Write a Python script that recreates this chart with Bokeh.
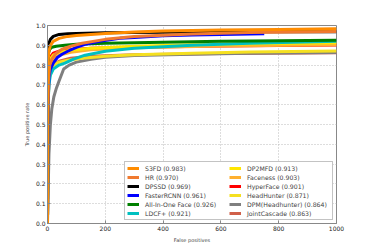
from bokeh.plotting import figure
from bokeh.models import Legend, LegendItem, Range1d, FixedTicker, CustomJSTickFormatter
from bokeh.embed import file_html
from bokeh.resources import INLINE

names = ["S3FD (0.983)", "HR (0.970)", "DPSSD (0.969)", "FasterRCNN (0.961)",
         "All-In-One Face (0.926)", "LDCF+ (0.921)", "DP2MFD (0.913)",
         "Faceness (0.903)", "HyperFace (0.901)", "HeadHunter (0.871)",
         "DPM(Headhunter) (0.864)", "JointCascade (0.863)"]
colors = ["#ff8c00", "#f07a30", "#000000", "#0000ff", "#008000", "#00c0c0",
          "#ffe600", "#ffb030", "#ff0000", "#f5e020", "#7f7f7f", "#d0604a"]

s3fd_x = [0, 0.5, 2, 5, 10, 20, 40, 70, 100, 150, 200, 300, 400, 600, 800, 1000]
s3fd_y = [0, 0.6, 0.82, 0.87, 0.9, 0.92, 0.935, 0.945, 0.95, 0.955, 0.96, 0.967, 0.972, 0.977, 0.98, 0.983]
hr_x = [0, 1, 3, 8, 15, 30, 50, 80, 120, 200, 300, 500, 700, 1000]
hr_y = [0, 0.5, 0.72, 0.8, 0.83, 0.86, 0.88, 0.895, 0.91, 0.93, 0.945, 0.957, 0.965, 0.97]
dpssd_x = [0, 0.5, 2, 5, 10, 20, 40, 70, 100, 200, 300, 500, 700, 1000]
dpssd_y = [0, 0.8, 0.88, 0.91, 0.93, 0.945, 0.955, 0.958, 0.96, 0.963, 0.965, 0.967, 0.968, 0.969]
frcnn_x = [0, 2, 5, 10, 20, 35, 50, 70, 100, 130, 180, 250, 300, 400, 500, 600, 750]
frcnn_y = [0, 0.6, 0.74, 0.78, 0.81, 0.84, 0.855, 0.87, 0.89, 0.905, 0.92, 0.935, 0.94, 0.948, 0.952, 0.955, 0.958]
aio_x = [0, 1, 3, 8, 15, 30, 60, 100, 200, 400, 600, 800, 1000]
aio_y = [0, 0.82, 0.86, 0.88, 0.89, 0.895, 0.9, 0.905, 0.91, 0.915, 0.92, 0.923, 0.926]
ldcf_x = [0, 2, 5, 10, 20, 40, 60, 90, 130, 200, 300, 500, 700, 1000]
ldcf_y = [0, 0.6, 0.7, 0.75, 0.78, 0.8, 0.81, 0.83, 0.85, 0.87, 0.885, 0.9, 0.91, 0.921]
dp2_x = [0, 2, 5, 10, 20, 40, 80, 150, 300, 500, 700, 1000]
dp2_y = [0, 0.7, 0.8, 0.83, 0.85, 0.865, 0.875, 0.885, 0.895, 0.903, 0.908, 0.913]
face_x = [0, 2, 5, 10, 20, 40, 80, 150, 300, 600, 1000]
face_y = [0, 0.65, 0.76, 0.8, 0.83, 0.85, 0.865, 0.877, 0.887, 0.897, 0.903]
hyper_x = [0, 2, 5, 10, 20, 40, 80, 150, 300, 600, 1000]
hyper_y = [0, 0.7, 0.8, 0.84, 0.86, 0.87, 0.878, 0.885, 0.89, 0.896, 0.901]
hh_x = [0, 2, 5, 10, 20, 40, 70, 120, 200, 300, 500, 700, 1000]
hh_y = [0, 0.6, 0.72, 0.77, 0.8, 0.815, 0.825, 0.835, 0.845, 0.852, 0.86, 0.866, 0.871]
dpm_x = [0, 2, 5, 10, 15, 22, 30, 40, 56, 75, 100, 150, 200, 300, 500, 700, 1000]
dpm_y = [0, 0.14, 0.35, 0.5, 0.58, 0.64, 0.68, 0.72, 0.78, 0.8, 0.815, 0.83, 0.84, 0.848, 0.855, 0.86, 0.864]
jc_x = [0, 2, 5, 10, 20, 40, 80, 150, 300, 600, 1000]
jc_y = [0, 0.6, 0.72, 0.77, 0.8, 0.82, 0.835, 0.845, 0.852, 0.858, 0.863]

series = [(s3fd_x, s3fd_y), (hr_x, hr_y), (dpssd_x, dpssd_y), (frcnn_x, frcnn_y),
          (aio_x, aio_y), (ldcf_x, ldcf_y), (dp2_x, dp2_y), (face_x, face_y),
          (hyper_x, hyper_y), (hh_x, hh_y), (dpm_x, dpm_y), (jc_x, jc_y)]

x_ticks = [0, 200, 400, 600, 800, 1000]
y_ticks = [0.0, 0.1, 0.2, 0.3, 0.4, 0.5, 0.6, 0.7, 0.8, 0.9, 1.0]

p = figure(width=366, height=245, output_backend="svg", toolbar_location=None,
           x_range=Range1d(0, 1000), y_range=Range1d(0, 1),
           min_border_left=47, min_border_right=30, min_border_top=25, min_border_bottom=21)

renderers = [None] * len(series)
for i in reversed(range(len(series))):
    xs, ys = series[i]
    renderers[i] = p.line(xs, ys, line_color=colors[i], line_width=3)

items = [LegendItem(label=names[i], renderers=[renderers[i]]) for i in range(len(names))]
legend = Legend(items=items, location="bottom_right", ncols=2, margin=3,
                label_text_font="DejaVu Sans", label_text_font_size="6.2px",
                glyph_width=12, glyph_height=8, label_height=8, label_width=83,
                label_standoff=6, spacing=1, padding=2,
                border_line_color="#888888", background_fill_alpha=1.0)
p.add_layout(legend)

p.xaxis.ticker = FixedTicker(ticks=x_ticks)
p.yaxis.ticker = FixedTicker(ticks=y_ticks)
p.yaxis.formatter = CustomJSTickFormatter(code="return tick.toFixed(1);")
p.xaxis.axis_label = "False positives"
p.yaxis.axis_label = "True positive rate"
for ax in (p.xaxis, p.yaxis):
    ax.major_label_text_font = "DejaVu Sans"
    ax.major_label_text_font_size = "6px"
    ax.major_label_text_color = "#222222"
    ax.axis_label_text_font = "DejaVu Sans"
    ax.axis_label_text_font_size = "5px"
    ax.axis_label_text_font_style = "normal"
    ax.axis_label_standoff = 3
    ax.major_label_standoff = 2
    ax.major_tick_in = 3
    ax.major_tick_out = 0
    ax.minor_tick_line_color = None
    ax.axis_line_color = "#888888"
    ax.major_tick_line_color = "#888888"
p.grid.grid_line_color = "#bbbbbb"
p.grid.grid_line_dash = "1 2"
p.outline_line_color = "#888888"
p.outline_line_width = 1

open("out.html", "w").write(file_html(p, INLINE))
